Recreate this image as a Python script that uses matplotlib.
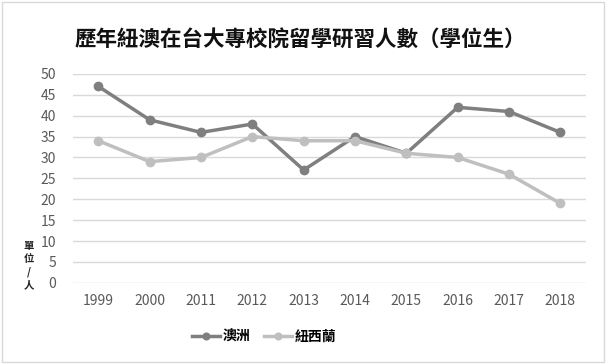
import matplotlib.pyplot as plt
from matplotlib.patches import Rectangle

plt.rcParams['font.family'] = ['Noto Sans CJK TC', 'DejaVu Sans']

years = ['1999', '2000', '2011', '2012', '2013', '2014', '2015', '2016', '2017', '2018']
australia = [47, 39, 36, 38, 27, 35, 31, 42, 41, 36]
new_zealand = [34, 29, 30, 35, 34, 34, 31, 30, 26, 19]

fig = plt.figure(figsize=(6.06, 3.64), dpi=100)
ax = fig.add_axes([0.12, 0.223, 0.847, 0.574])

x = range(len(years))
ax.plot(x, australia, color='#7f7f7f', lw=2.5, marker='o', ms=6, label='澳洲', zorder=3)
ax.plot(x, new_zealand, color='#bfbfbf', lw=2.5, marker='o', ms=6, label='紐西蘭', zorder=3)

ax.set_xlim(-0.5, len(years) - 0.5)
ax.set_ylim(0, 50)
ax.set_yticks(range(0, 51, 5))
ax.set_xticks(list(x))
ax.set_xticklabels(years)
ax.tick_params(length=0, labelsize=10, colors='#595959', pad=8)
ax.tick_params(axis='y', pad=12)
ax.grid(axis='y', color='#d9d9d9', lw=1)
ax.set_axisbelow(True)
for s in ax.spines.values():
    s.set_visible(False)

fig.text(0.495, 0.89, '歷年紐澳在台大專校院留學研習人數（學位生）', ha='center', va='center',
         fontsize=15.5, color='#111111', fontweight='bold')
fig.text(0.048, 0.27, '單\n位\n/\n人', ha='center', va='center', fontsize=7.5,
         color='#222222', fontweight='bold', linespacing=1.35)

fig.legend(loc='center', bbox_to_anchor=(0.436, 0.074), ncol=2, frameon=False,
           handlelength=2.0, columnspacing=1.0, handletextpad=0.2, markerscale=0.8,
           prop={'weight': 'bold', 'size': 10})

fig.patches.append(Rectangle((0.004, 0.006), 0.992, 0.988, transform=fig.transFigure,
                             fill=False, edgecolor='#d9d9d9', lw=1))

fig.savefig('out.png', dpi=100)
